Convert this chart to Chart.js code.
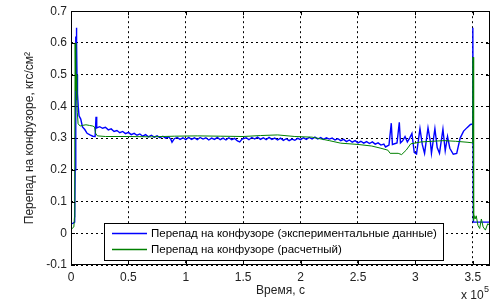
<!DOCTYPE html>
<html lang="ru">
<head>
<meta charset="UTF-8">
<title>Перепад на конфузоре</title>
<script src="https://cdn.jsdelivr.net/npm/chart.js"></script>
<style>
    body { margin: 0; background: #ffffff; }
    #wrap { width: 496px; height: 302px; }
</style>
</head>
<body>
<div id="wrap"><canvas id="myChart" width="496" height="302"></canvas></div>
<script>
// время в единицах 10^5 с
const expTime = [0, 0.020, 0.032, 0.036, 0.040, 0.043, 0.045, 0.047, 0.050, 0.053, 0.055, 0.058, 0.063, 0.070, 0.085,
    0.10, 0.12, 0.14, 0.165, 0.19, 0.21, 0.218, 0.224,
    0.250, 0.275, 0.300, 0.325, 0.350, 0.375, 0.400, 0.425, 0.450, 0.475, 0.500, 0.525, 0.550, 0.575, 0.600,
    0.625, 0.650, 0.675, 0.700, 0.725, 0.750, 0.775, 0.800, 0.825, 0.850, 0.870, 0.880, 0.900, 0.925, 0.950,
    0.975, 1.000, 1.025, 1.050, 1.075, 1.100, 1.125, 1.150, 1.175, 1.200, 1.225, 1.250, 1.275, 1.300, 1.325,
    1.350, 1.375, 1.400, 1.425, 1.450, 1.470, 1.490, 1.525, 1.550, 1.575, 1.600, 1.625, 1.650, 1.675, 1.700,
    1.725, 1.750, 1.775, 1.800, 1.825, 1.850, 1.875, 1.900, 1.925, 1.950, 1.975, 2.000, 2.025, 2.050, 2.075,
    2.100, 2.125, 2.150, 2.175, 2.200, 2.225, 2.250, 2.275, 2.300, 2.325, 2.350, 2.375, 2.400, 2.425, 2.450,
    2.475, 2.500, 2.525, 2.550, 2.575, 2.600, 2.625, 2.650, 2.675, 2.700, 2.725, 2.740, 2.770,
    2.79, 2.80, 2.84, 2.86, 2.87, 2.89, 2.91, 2.93, 2.95, 2.97, 2.99, 3.01,
    3.04, 3.06, 3.08, 3.11, 3.13, 3.14, 3.17, 3.19, 3.21, 3.24, 3.26, 3.28, 3.30, 3.33, 3.36, 3.39, 3.42, 3.45,
    3.48, 3.499, 3.500, 3.501, 3.505, 3.65];
const expValue = [0.030, 0.032, 0.035, 0.20, 0.55, 0.62, 0.58, 0.648, 0.60, 0.47, 0.50, 0.44, 0.40, 0.37, 0.36,
    0.335, 0.327, 0.315, 0.310, 0.306, 0.305, 0.367, 0.332,
    0.336, 0.331, 0.334, 0.326, 0.329, 0.321, 0.324, 0.317, 0.321, 0.314, 0.318, 0.311, 0.315, 0.309, 0.313,
    0.306, 0.311, 0.304, 0.309, 0.303, 0.307, 0.301, 0.306, 0.300, 0.304, 0.296, 0.287, 0.298, 0.302, 0.296,
    0.301, 0.295, 0.302, 0.296, 0.301, 0.295, 0.302, 0.297, 0.301, 0.294, 0.300, 0.296, 0.302, 0.295, 0.300,
    0.294, 0.301, 0.295, 0.299, 0.291, 0.288, 0.297, 0.301, 0.295, 0.302, 0.297, 0.303, 0.296, 0.301, 0.295,
    0.302, 0.296, 0.300, 0.294, 0.300, 0.293, 0.298, 0.292, 0.297, 0.293, 0.299, 0.295, 0.301, 0.296, 0.302,
    0.297, 0.303, 0.297, 0.302, 0.296, 0.301, 0.297, 0.300, 0.294, 0.298, 0.292, 0.296, 0.289, 0.294, 0.287,
    0.292, 0.285, 0.290, 0.284, 0.289, 0.283, 0.288, 0.281, 0.285, 0.278, 0.281, 0.272, 0.278,
    0.347, 0.280, 0.285, 0.350, 0.285, 0.292, 0.305, 0.288, 0.300, 0.315, 0.255, 0.250,
    0.330, 0.280, 0.252, 0.332, 0.290, 0.252, 0.330, 0.270, 0.252, 0.328, 0.260, 0.305, 0.268, 0.249, 0.252, 0.300, 0.322, 0.333,
    0.343, 0.345, 0.280, 0.648, 0.035, 0.035];

const calcTime = [0, 0.025, 0.030, 0.033, 0.036, 0.040, 0.043, 0.047, 0.050, 0.055, 0.062, 0.08, 0.10, 0.13, 0.16,
    0.19, 0.205, 0.215, 0.23, 0.30, 0.50, 0.70, 0.90, 1.10, 1.30, 1.50, 1.65, 1.80, 1.95, 2.10, 2.25, 2.35, 2.50,
    2.62, 2.70, 2.76, 2.78, 2.85, 2.88, 2.92, 2.96, 3.05, 3.15, 3.25, 3.35, 3.45, 3.50, 3.502, 3.505, 3.51, 3.52,
    3.53, 3.545, 3.56, 3.575, 3.59, 3.61, 3.63, 3.65];
const calcValue = [0.012, 0.020, 0.050, 0.30, 0.60, 0.52, 0.45, 0.50, 0.42, 0.38, 0.345, 0.338, 0.340, 0.342, 0.340,
    0.338, 0.335, 0.315, 0.307, 0.305, 0.305, 0.304, 0.306, 0.307, 0.306, 0.305, 0.308, 0.310, 0.305, 0.303, 0.292, 0.284, 0.280,
    0.275, 0.268, 0.262, 0.252, 0.252, 0.248, 0.262, 0.282, 0.288, 0.290, 0.292, 0.290, 0.287, 0.285, 0.555, 0.040, 0.060, 0.045,
    0.055, 0.025, 0.015, 0.045, 0.020, 0.010, 0.030, 0.025];

const xTicks = [0, 0.5, 1, 1.5, 2, 2.5, 3, 3.5];
const yTicks = [-0.1, 0, 0.1, 0.2, 0.3, 0.4, 0.5, 0.6, 0.7];
const legendLabels = ['Перепад на конфузоре (экспериментальные данные)', 'Перепад на конфузоре (расчетный)'];

const FONT = 'Arial, "Liberation Sans", sans-serif';

function toPoints(xs, ys) {
    return xs.map((x, i) => ({ x: x, y: ys[i] }));
}

// рамка, внутренние засечки, легенда и множитель оси
const matlabPlugin = {
    id: 'matlab',
    afterDraw(chart) {
        const ctx = chart.ctx;
        const a = chart.chartArea;
        const sx = chart.scales.x, sy = chart.scales.y;
        ctx.save();
        ctx.strokeStyle = '#000';
        ctx.lineWidth = 1;
        ctx.setLineDash([]);
        ctx.strokeRect(Math.round(a.left) + 0.5, Math.round(a.top) + 0.5,
            Math.round(a.right - a.left) - 1, Math.round(a.bottom - a.top) - 1);

        ctx.beginPath();
        xTicks.forEach(v => {
            const px = Math.round(sx.getPixelForValue(v)) + 0.5;
            ctx.moveTo(px, a.bottom); ctx.lineTo(px, a.bottom - 4);
            ctx.moveTo(px, a.top); ctx.lineTo(px, a.top + 4);
        });
        yTicks.forEach(v => {
            const py = Math.round(sy.getPixelForValue(v)) + 0.5;
            ctx.moveTo(a.left, py); ctx.lineTo(a.left + 4, py);
            ctx.moveTo(a.right, py); ctx.lineTo(a.right - 4, py);
        });
        ctx.stroke();

        // легенда
        const lx = 104, ly = 223, lw = 339, lh = 37;
        ctx.fillStyle = '#fff';
        ctx.fillRect(lx, ly, lw, lh);
        ctx.strokeStyle = '#000';
        ctx.strokeRect(lx + 0.5, ly + 0.5, lw, lh);
        const colors = ['#0000ff', '#008000'];
        ctx.font = '11.5px ' + FONT;
        ctx.textBaseline = 'middle';
        ctx.textAlign = 'left';
        legendLabels.forEach((t, i) => {
            const y = 233 + i * 16;
            ctx.strokeStyle = colors[i];
            ctx.lineWidth = 1.3;
            ctx.beginPath();
            ctx.moveTo(112, y + 0.5); ctx.lineTo(147, y + 0.5);
            ctx.stroke();
            ctx.fillStyle = '#000';
            ctx.fillText(t, 151, y + 1);
        });

        // x 10^5
        ctx.fillStyle = '#222';
        ctx.font = '12px ' + FONT;
        ctx.textBaseline = 'alphabetic';
        ctx.fillText('x 10', 461, 299);
        ctx.font = '9px ' + FONT;
        ctx.fillText('5', 484, 292);
        ctx.restore();
    }
};

const ctx = document.getElementById('myChart').getContext('2d');
const myChart = new Chart(ctx, {
    type: 'line',
    data: {
        datasets: [{
            label: legendLabels[0],
            data: toPoints(expTime, expValue),
            borderColor: '#0000ff',
            borderWidth: 1.4,
            pointRadius: 0,
            tension: 0,
            order: 1
        }, {
            label: legendLabels[1],
            data: toPoints(calcTime, calcValue),
            borderColor: '#008000',
            borderWidth: 1,
            pointRadius: 0,
            tension: 0,
            order: 0
        }]
    },
    options: {
        responsive: false,
        animation: false,
        devicePixelRatio: 1,
        layout: { padding: { top: 8, right: 6, left: 0, bottom: 0 } },
        plugins: { legend: { display: false }, tooltip: { enabled: false } },
        scales: {
            x: {
                type: 'linear',
                min: 0,
                max: 3.65,
                afterFit: s => { s.height = 37; },
                afterBuildTicks: s => { s.ticks = xTicks.map(v => ({ value: v })); },
                ticks: {
                    padding: 5,
                    color: '#222',
                    font: { family: FONT, size: 12 },
                    maxRotation: 0,
                    callback: v => String(v)
                },
                grid: { color: '#000', drawTicks: false, lineWidth: 1 },
                border: { display: false, dash: [2, 3] },
                title: {
                    display: true,
                    text: 'Время, с',
                    color: '#222',
                    font: { family: FONT, size: 12 },
                    padding: { top: 0, bottom: 4 }
                }
            },
            y: {
                min: -0.1,
                max: 0.7,
                afterFit: s => { s.width = 71; },
                afterBuildTicks: s => { s.ticks = yTicks.map(v => ({ value: v })); },
                ticks: {
                    padding: 4,
                    color: '#222',
                    font: { family: FONT, size: 12 },
                    callback: v => String(Math.round(v * 10) / 10)
                },
                grid: { color: '#000', drawTicks: false, lineWidth: 1 },
                border: { display: false, dash: [2, 3] },
                title: {
                    display: true,
                    text: 'Перепад на конфузоре, кгс/см²',
                    color: '#222',
                    font: { family: FONT, size: 12 },
                    padding: { top: 22, bottom: 0 }
                }
            }
        }
    },
    plugins: [matlabPlugin]
});
</script>
</body>
</html>
